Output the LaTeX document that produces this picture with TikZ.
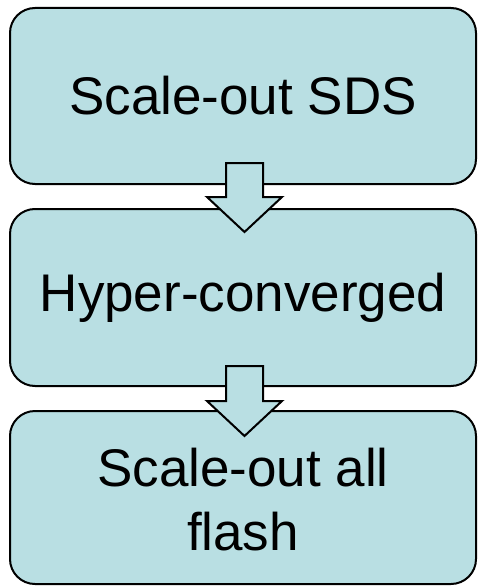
\documentclass[tikz,border=0pt]{standalone}
\usepackage{fontspec}
\setmainfont{Liberation Sans}
\begin{document}
\begin{tikzpicture}[x=1pt,y=-1pt,
  box/.style={draw=black,line width=2pt,fill=boxfill,rounded corners=25pt},
  blockarrow/.style={draw=black,line width=2pt,fill=boxfill,line join=miter},
  lbl/.style={font=\fontsize{53}{64}\selectfont,align=center,text=black}]
\definecolor{boxfill}{RGB}{185,223,227}
\useasboundingbox (0,0) rectangle (477,586);
\draw[box] (10,8) rectangle (476,184);
\draw[box] (10,209) rectangle (476,386);
\draw[box] (10,411) rectangle (476,584);
\node[lbl] (b1) at (243,96) {Scale-out SDS};
\node[lbl] (b2) at (243,298) {Hyper-converged};
\node[lbl] (b3) at (243,500) {Scale-out all\\flash};
\draw[blockarrow] (226,163) -- (263,163) -- (263,197) -- (282,197) -- (244.5,232) -- (207,197) -- (226,197) -- cycle;
\draw[blockarrow] (226,366) -- (263,366) -- (263,401) -- (282,401) -- (244.5,436) -- (207,401) -- (226,401) -- cycle;
\end{tikzpicture}
\end{document}
